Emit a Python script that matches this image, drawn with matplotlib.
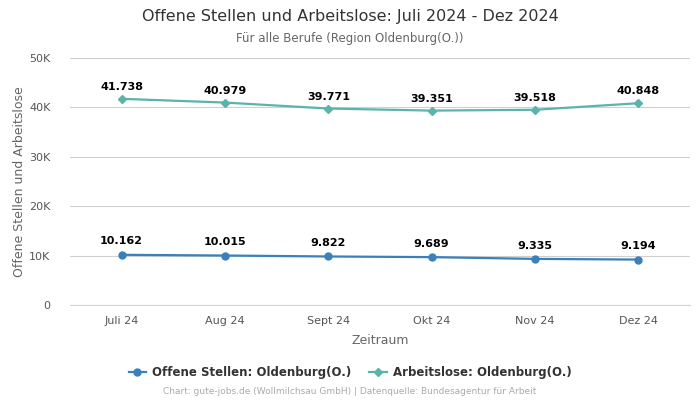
import matplotlib
matplotlib.use("Agg")
import matplotlib.pyplot as plt
from matplotlib.ticker import FuncFormatter
from matplotlib.lines import Line2D

months = ["Juli 24", "Aug 24", "Sept 24", "Okt 24", "Nov 24", "Dez 24"]
offene = [10162, 10015, 9822, 9689, 9335, 9194]
arbeitslose = [41738, 40979, 39771, 39351, 39518, 40848]
yticks = [0, 10000, 20000, 30000, 40000, 50000]

def de(v):
    return f"{v:,}".replace(",", ".")

plt.rcParams['font.family'] = ['DejaVu Sans']
fig = plt.figure(figsize=(7, 4), dpi=100)
ax = fig.add_axes([0.1, 0.2375, 0.8857, 0.6175])

x = list(range(len(months)))
c_off = "#3a80ba"
c_arb = "#5ab4ac"
ax.plot(x, offene, color=c_off, lw=1.6, marker="o", ms=5, zorder=3)
ax.plot(x, arbeitslose, color=c_arb, lw=1.6, marker="D", ms=4, zorder=3)

for xi, v in zip(x, offene):
    ax.annotate(de(v), (xi, v), xytext=(0, 6), textcoords="offset points",
                ha="center", va="bottom", fontsize=8, fontweight="bold", color="black")
for xi, v in zip(x, arbeitslose):
    ax.annotate(de(v), (xi, v), xytext=(0, 5), textcoords="offset points",
                ha="center", va="bottom", fontsize=8, fontweight="bold", color="black")

ax.set_xlim(-0.5, len(months) - 0.5)
ax.set_ylim(0, 50000)
ax.set_yticks(yticks)
ax.yaxis.set_major_formatter(FuncFormatter(lambda v, p: "0" if v == 0 else f"{int(v/1000)}K"))
ax.set_xticks(x)
ax.set_xticklabels(months)
ax.grid(axis="y", color="#d0d0d0", lw=0.8)
ax.set_axisbelow(True)
for s in ["top", "right", "left"]:
    ax.spines[s].set_visible(False)
ax.spines["bottom"].set_color("#ccd6eb")
ax.tick_params(axis="both", length=0, labelsize=8, colors="#555555", pad=8)
ax.tick_params(axis="y", pad=14)
ax.set_xlabel("Zeitraum", fontsize=9, color="#666666", labelpad=6)
ax.set_ylabel("Offene Stellen und Arbeitslose", fontsize=9, color="#666666", labelpad=2)

fig.text(0.5, 0.958, "Offene Stellen und Arbeitslose: Juli 2024 - Dez 2024",
         ha="center", va="center", fontsize=11.5, color="#333333")
fig.text(0.5, 0.903, "Für alle Berufe (Region Oldenburg(O.))",
         ha="center", va="center", fontsize=8.5, color="#666666")

h1 = Line2D([], [], color=c_off, lw=1.6, marker="o", ms=5)
h2 = Line2D([], [], color=c_arb, lw=1.6, marker="D", ms=4)
fig.legend([h1, h2], ["Offene Stellen: Oldenburg(O.)", "Arbeitslose: Oldenburg(O.)"],
           loc="center", bbox_to_anchor=(0.5, 0.068), ncol=2, frameon=False,
           prop={"size": 8.5, "weight": "bold"}, labelcolor="#333333",
           handlelength=1.5, columnspacing=1.5, handletextpad=0.5)
fig.text(0.5, 0.02, "Chart: gute-jobs.de (Wollmilchsau GmbH) | Datenquelle: Bundesagentur für Arbeit",
         ha="center", va="center", fontsize=6.5, color="#aaaaaa")

fig.savefig("out.png", dpi=100)
